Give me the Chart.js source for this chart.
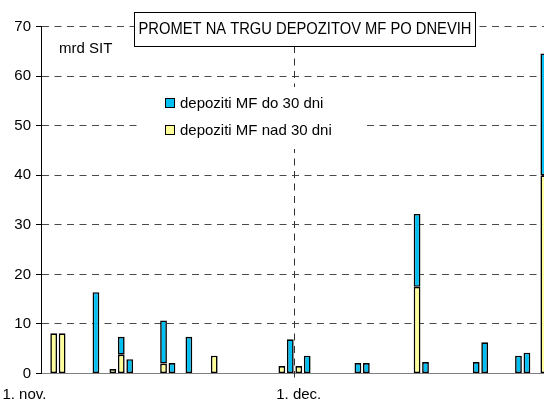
<!DOCTYPE html>
<html>
<head>
<meta charset="utf-8">
<script src="https://cdn.jsdelivr.net/npm/chart.js@4/dist/chart.umd.min.js"></script>
<style>
  html, body { margin: 0; padding: 0; background: #fff; overflow: hidden; width: 544px; height: 403px; }
  #graf { display: block; }
</style>
</head>
<body>
<canvas id="graf" width="560" height="403"></canvas>
<script>
// trgovalni dnevi (2005) in prometi v mrd SIT
var dni = ['2.11.', '3.11.', '7.11.', '9.11.', '10.11.', '11.11.', '15.11.', '16.11.', '18.11.', '21.11.',
  '29.11.', '30.11.', '1.12.', '2.12.', '8.12.', '9.12.', '15.12.', '16.12.', '22.12.', '23.12.',
  '27.12.', '28.12.', '30.12.'];
var doTrideset = [0, 0, 16.4, 0, 3.6, 2.9, 8.7, 2.1, 7.4, 0,
  0, 6.9, 0, 3.6, 2.1, 2.1, 14.7, 2.3, 2.3, 6.3,
  3.6, 4.2, 24.6];
var nadTrideset = [8.1, 8.1, 0, 0.9, 3.8, 0, 2.0, 0, 0, 3.6,
  1.5, 0, 1.5, 0, 0, 0, 17.5, 0, 0, 0,
  0, 0, 40.0];
var meseci = [11, 12];
var dolzine = [30, 31];
var oznakeDni = ['1.11.', '1.12.'];
var oznakeOs = ['1. nov.          ', '1. dec.'];
var yTicks = [0, 10, 20, 30, 40, 50, 60, 70];
var imeDo = 'depoziti MF do 30 dni';
var imeNad = 'depoziti MF nad 30 dni';
var naslov = 'PROMET NA TRGU DEPOZITOV MF PO DNEVIH';
var enota = 'mrd SIT';

var MODRA = '#00bff2';
var RUMENA = '#ffff99';
var FONT = '"Liberation Sans", Arial, sans-serif';

// koledar vseh dni
var koledar = [];
meseci.forEach(function (m, i) {
  for (var d = 1; d <= dolzine[i]; d++) koledar.push(d + '.' + m + '.');
});
function vrsta(vrednosti) {
  return koledar.map(function (k) {
    var i = dni.indexOf(k);
    return i >= 0 && vrednosti[i] ? vrednosti[i] : null;
  });
}

var okras = {
  id: 'okras',
  afterDraw: function (chart) {
    var ctx = chart.ctx;
    var x = chart.scales.x;
    var ca = chart.chartArea;
    var xi = koledar.indexOf(oznakeDni[1]);
    var lx = Math.round((x.getPixelForValue(xi - 1) + x.getPixelForValue(xi)) / 2) - 0.5;

    ctx.save();
    // navpicna crta 1. dec.
    ctx.strokeStyle = '#333';
    ctx.lineWidth = 1;
    ctx.setLineDash([7, 5.5]);
    ctx.beginPath();
    ctx.moveTo(lx, 46);
    ctx.lineTo(lx, ca.bottom + 4);
    ctx.stroke();
    ctx.setLineDash([]);

    // legenda
    ctx.fillStyle = '#fff';
    ctx.fillRect(142, 87, 220, 62);
    ctx.font = '15px ' + FONT;
    ctx.textBaseline = 'middle';
    ctx.textAlign = 'left';
    [[MODRA, imeDo, 98.5], [RUMENA, imeNad, 125.5]].forEach(function (v) {
      ctx.fillStyle = v[0];
      ctx.fillRect(165.5, v[2], 9, 9);
      ctx.strokeStyle = '#000';
      ctx.strokeRect(165.5, v[2], 9, 9);
      ctx.fillStyle = '#000';
      ctx.fillText(v[1], 180, v[2] + 5);
    });

    // naslov
    ctx.fillStyle = '#fff';
    ctx.fillRect(134.5, 12.5, 341, 34);
    ctx.strokeStyle = '#000';
    ctx.strokeRect(134.5, 12.5, 341, 34);
    ctx.font = '16px ' + FONT;
    ctx.fillStyle = '#000';
    var w = ctx.measureText(naslov).width;
    ctx.save();
    ctx.translate(305, 30);
    ctx.scale(333 / w, 1);
    ctx.textAlign = 'center';
    ctx.fillText(naslov, 0, 0);
    ctx.restore();

    // enota
    ctx.font = '15px ' + FONT;
    ctx.textAlign = 'left';
    ctx.fillText(enota, 59, 49);
    ctx.restore();
  }
};

new Chart(document.getElementById('graf').getContext('2d'), {
  type: 'bar',
  data: {
    labels: koledar,
    datasets: [
      { label: imeNad, data: vrsta(nadTrideset), backgroundColor: RUMENA, borderColor: '#000', borderWidth: 1.6, borderSkipped: false },
      { label: imeDo, data: vrsta(doTrideset), backgroundColor: MODRA, borderColor: '#000', borderWidth: 1.6, borderSkipped: false }
    ]
  },
  options: {
    responsive: false,
    animation: false,
    layout: { padding: { left: 0, right: 3.5, top: 26.7, bottom: 0 } },
    datasets: { bar: { categoryPercentage: 1, barPercentage: 0.8 } },
    plugins: { legend: { display: false }, tooltip: { enabled: false } },
    scales: {
      x: {
        stacked: true,
        afterFit: function (s) { s.height = 29.5; s.paddingLeft = 0; s.paddingRight = 0; },
        grid: { display: false, drawTicks: false },
        border: { display: true, color: '#808080', width: 1 },
        ticks: {
          autoSkip: false, maxRotation: 0, padding: 12,
          color: '#000', font: { family: FONT, size: 15 },
          callback: function (v, i) {
            var j = oznakeDni.indexOf(koledar[i]);
            return j >= 0 ? oznakeOs[j] : '';
          }
        }
      },
      y: {
        stacked: true,
        min: 0, max: 70,
        afterFit: function (s) { s.width = 41; },
        afterBuildTicks: function (s) { s.ticks = yTicks.map(function (v) { return { value: v }; }); },
        grid: {
          color: function (c) { return c.tick && c.tick.value === 0 ? 'rgba(0,0,0,0)' : '#4a4a4a'; },
          tickColor: '#000', tickLength: 5, lineWidth: 1
        },
        border: { display: true, color: '#000', width: 1, dash: [7, 5.5] },
        ticks: { padding: 5, color: '#000', font: { family: FONT, size: 15 } }
      }
    }
  },
  plugins: [okras]
});
</script>
</body>
</html>
